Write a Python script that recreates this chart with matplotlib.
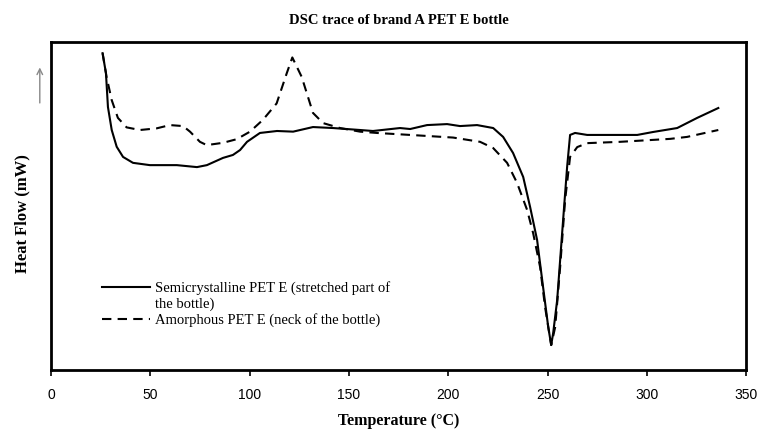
import matplotlib
matplotlib.use("Agg")
import matplotlib.pyplot as plt
from matplotlib.lines import Line2D

# Semicrystalline PET E (stretched part of the bottle)
semi_temp = [26.0, 27.7, 28.7, 30.6, 33.1, 36.3, 41.3, 49.8, 63.4, 73.5, 78.5, 86.6,
             91.6, 95.2, 98.7, 105.2, 113.8, 121.9, 131.9, 142.0, 155.6, 162.1, 175.7,
             180.8, 189.3, 199.4, 205.9, 214.5, 222.6, 227.6, 232.6, 237.7, 241.2,
             244.7, 247.7, 250.3, 251.8, 252.8, 254.8, 257.3, 259.8, 261.3, 263.8,
             269.9, 295.1, 303.1, 315.2, 325.3, 335.9]
semi_flow = [9.65, 9.04, 8.01, 7.31, 6.80, 6.49, 6.31, 6.24, 6.24, 6.18, 6.24, 6.46,
             6.55, 6.70, 6.95, 7.22, 7.28, 7.26, 7.40, 7.37, 7.31, 7.28, 7.37,
             7.34, 7.46, 7.49, 7.43, 7.46, 7.37, 7.10, 6.61, 5.88, 4.96,
             3.96, 2.53, 1.31, 0.76, 1.13, 2.13, 4.17, 6.18, 7.16, 7.22,
             7.16, 7.16, 7.25, 7.37, 7.68, 7.98]

# Amorphous PET E (neck of the bottle)
amor_temp = [26.0, 28.0, 30.6, 33.7, 38.1, 44.8, 53.2, 59.9, 66.5, 70.0, 75.0, 78.4,
             86.6, 93.5, 100.2, 106.7, 113.6, 118.7, 121.5, 126.2, 130.4, 131.9, 137.0,
             145.5, 155.6, 164.1, 180.8, 202.4, 216.0, 222.6, 229.6, 234.6, 239.7,
             242.7, 246.2, 248.7, 250.8, 251.8, 253.8, 256.3, 258.8, 261.3, 264.9,
             269.9, 286.5, 311.7, 320.2, 335.9]
amor_flow = [9.65, 8.93, 8.22, 7.68, 7.39, 7.31, 7.36, 7.46, 7.43, 7.26, 6.95, 6.85,
             6.92, 7.03, 7.26, 7.62, 8.12, 9.04, 9.52, 8.93, 8.12, 7.83, 7.52,
             7.37, 7.26, 7.22, 7.16, 7.08, 6.95, 6.76, 6.31, 5.70, 4.87,
             4.17, 3.14, 1.92, 1.13, 0.76, 1.31, 3.14, 5.18, 6.49, 6.79,
             6.91, 6.95, 7.04, 7.10, 7.31]

x_ticks = [0, 50, 100, 150, 200, 250, 300, 350]

serif = "Liberation Serif"

fig = plt.figure(figsize=(7.6, 4.32), dpi=100)
ax = fig.add_axes([0.067, 0.1435, 0.915, 0.76])

ax.plot(semi_temp, semi_flow, color="black", linewidth=1.5)
ax.plot(amor_temp, amor_flow, color="black", linewidth=1.5, dashes=(4.5, 3))

ax.set_xlim(0, 350)
ax.set_ylim(0, 10)
ax.set_xticks(x_ticks)
ax.set_xticklabels([str(t) for t in x_ticks], family="Liberation Sans", fontsize=10)
ax.set_yticks([])
ax.tick_params(axis="x", direction="out", length=4, width=1.2, pad=9)
for s in ax.spines.values():
    s.set_linewidth(2)

ax.set_title("DSC trace of brand A PET E bottle", family=serif, fontweight="bold",
             fontsize=10.5, pad=13)
ax.set_xlabel("Temperature (\u00b0C)", family=serif, fontweight="bold", fontsize=11.5,
              labelpad=8)
ax.set_ylabel("Heat Flow (mW)", family=serif, fontweight="bold", fontsize=12)
ax.yaxis.set_label_coords(-0.029, 0.475)

# upward arrow beside the y axis
ax.annotate("", xy=(-0.016, 0.93), xytext=(-0.016, 0.805), xycoords="axes fraction",
            arrowprops=dict(arrowstyle="->", color="#888888", lw=1), annotation_clip=False)

handles = [Line2D([], [], color="black", linewidth=1.5),
           Line2D([], [], linestyle="none"),
           Line2D([], [], color="black", linewidth=1.5, dashes=(4.5, 3))]
labels = ["Semicrystalline PET E (stretched part of", "the bottle)",
          "Amorphous PET E (neck of the bottle)"]
ax.legend(handles, labels, loc="upper left", bbox_to_anchor=(0.055, 0.31),
          frameon=False, handlelength=3.3, handletextpad=0.3, labelspacing=0.15,
          prop={"family": serif, "size": 10.5})

fig.savefig("out.png", dpi=100)
